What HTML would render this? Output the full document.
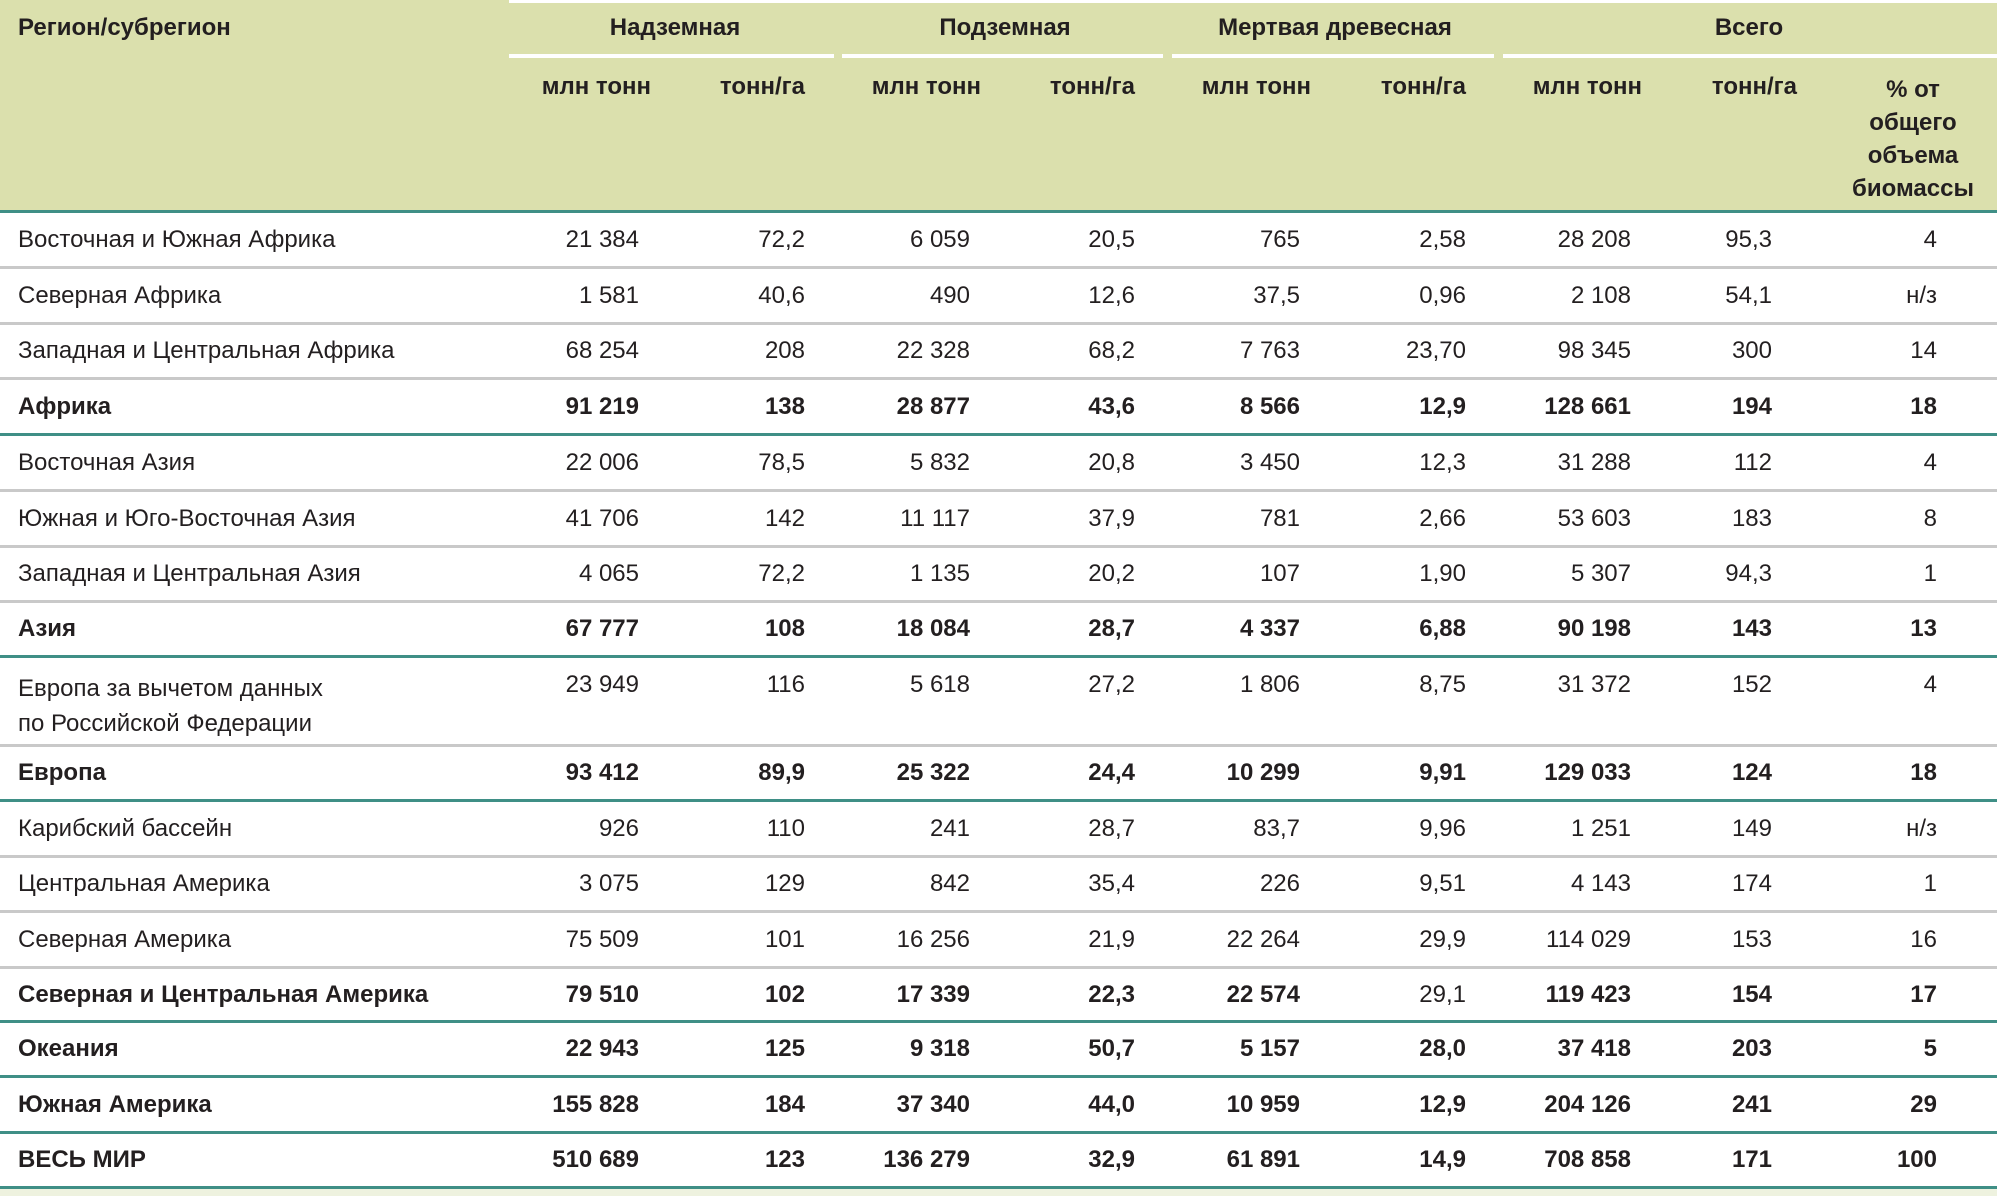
<!DOCTYPE html>
<html><head><meta charset="utf-8">
<style>
*{margin:0;padding:0;box-sizing:border-box}
body{width:1997px;height:1196px;background:#fff;position:relative;overflow:hidden;font-family:"Liberation Sans","DejaVu Sans",sans-serif;color:#231f20}
.hdr{position:absolute;left:0;top:0;width:1997px;height:211px;background:#dbe0ad}
.t{position:absolute;white-space:nowrap;font-size:24px;line-height:28px}
.b{font-weight:bold}
.g{position:absolute;height:4px;background:#fff}
.ln{position:absolute;left:0;width:1997px;height:3px;background:#c9c9c9}
.tl{background:#3f8f86}
.row{position:absolute;left:0;width:1997px}
.row .t{top:50%;transform:translateY(-50%)}
.c1{right:1358px}.c2{right:1192px}.c3{right:1027px}.c4{right:862px}.c5{right:697px}.c6{right:531px}.c7{right:366px}.c8{right:225px}.c9{right:60px}
.nm{left:18px}
.sub{top:73px;font-weight:bold;font-size:24px}
</style></head><body>
<div class="hdr"></div>
<div class="g" style="left:509px;top:0;width:1488px;height:3px"></div>
<div class="g" style="left:509px;top:54px;width:325px"></div>
<div class="g" style="left:842px;top:54px;width:321px"></div>
<div class="g" style="left:1172px;top:54px;width:322px"></div>
<div class="g" style="left:1503px;top:54px;width:494px"></div>
<div class="t b" style="left:18px;top:14px">Регион/субрегион</div>
<div class="t b" style="left:575px;top:14px;width:200px;text-align:center">Надземная</div>
<div class="t b" style="left:905px;top:14px;width:200px;text-align:center">Подземная</div>
<div class="t b" style="left:1185px;top:14px;width:300px;text-align:center">Мертвая древесная</div>
<div class="t b" style="left:1649px;top:14px;width:200px;text-align:center">Всего</div>
<div class="t sub" style="right:1346px">млн тонн</div><div class="t sub" style="right:1192px">тонн/га</div>
<div class="t sub" style="right:1016px">млн тонн</div><div class="t sub" style="right:862px">тонн/га</div>
<div class="t sub" style="right:686px">млн тонн</div><div class="t sub" style="right:531px">тонн/га</div>
<div class="t sub" style="right:355px">млн тонн</div><div class="t sub" style="right:200px">тонн/га</div>
<div class="t b" style="left:1833px;top:73px;width:160px;text-align:center;line-height:33px">% от<br>общего<br>объема<br>биомассы</div>

<div class="ln tl" style="top:210px"></div>

<div class="row" style="top:212px;height:55px"><span class="t nm">Восточная и Южная Африка</span><span class="t c1">21 384</span><span class="t c2">72,2</span><span class="t c3">6 059</span><span class="t c4">20,5</span><span class="t c5">765</span><span class="t c6">2,58</span><span class="t c7">28 208</span><span class="t c8">95,3</span><span class="t c9">4</span></div>
<div class="ln" style="top:266px"></div>
<div class="row" style="top:268px;height:55px"><span class="t nm">Северная Африка</span><span class="t c1">1 581</span><span class="t c2">40,6</span><span class="t c3">490</span><span class="t c4">12,6</span><span class="t c5">37,5</span><span class="t c6">0,96</span><span class="t c7">2 108</span><span class="t c8">54,1</span><span class="t c9">н/з</span></div>
<div class="ln" style="top:322px"></div>
<div class="row" style="top:324px;height:54px"><span class="t nm">Западная и Центральная Африка</span><span class="t c1">68 254</span><span class="t c2">208</span><span class="t c3">22 328</span><span class="t c4">68,2</span><span class="t c5">7 763</span><span class="t c6">23,70</span><span class="t c7">98 345</span><span class="t c8">300</span><span class="t c9">14</span></div>
<div class="ln" style="top:377px"></div>
<div class="row b" style="top:379px;height:55px"><span class="t nm">Африка</span><span class="t c1">91 219</span><span class="t c2">138</span><span class="t c3">28 877</span><span class="t c4">43,6</span><span class="t c5">8 566</span><span class="t c6">12,9</span><span class="t c7">128 661</span><span class="t c8">194</span><span class="t c9">18</span></div>
<div class="ln tl" style="top:433px"></div>
<div class="row" style="top:435px;height:55px"><span class="t nm">Восточная Азия</span><span class="t c1">22 006</span><span class="t c2">78,5</span><span class="t c3">5 832</span><span class="t c4">20,8</span><span class="t c5">3 450</span><span class="t c6">12,3</span><span class="t c7">31 288</span><span class="t c8">112</span><span class="t c9">4</span></div>
<div class="ln" style="top:489px"></div>
<div class="row" style="top:491px;height:55px"><span class="t nm">Южная и Юго-Восточная Азия</span><span class="t c1">41 706</span><span class="t c2">142</span><span class="t c3">11 117</span><span class="t c4">37,9</span><span class="t c5">781</span><span class="t c6">2,66</span><span class="t c7">53 603</span><span class="t c8">183</span><span class="t c9">8</span></div>
<div class="ln" style="top:545px"></div>
<div class="row" style="top:547px;height:54px"><span class="t nm">Западная и Центральная Азия</span><span class="t c1">4 065</span><span class="t c2">72,2</span><span class="t c3">1 135</span><span class="t c4">20,2</span><span class="t c5">107</span><span class="t c6">1,90</span><span class="t c7">5 307</span><span class="t c8">94,3</span><span class="t c9">1</span></div>
<div class="ln" style="top:600px"></div>
<div class="row b" style="top:602px;height:54px"><span class="t nm">Азия</span><span class="t c1">67 777</span><span class="t c2">108</span><span class="t c3">18 084</span><span class="t c4">28,7</span><span class="t c5">4 337</span><span class="t c6">6,88</span><span class="t c7">90 198</span><span class="t c8">143</span><span class="t c9">13</span></div>
<div class="ln tl" style="top:655px"></div>
<div class="t" style="left:18px;top:671px;line-height:35px">Европа за вычетом данных<br>по Российской Федерации</div>
<div class="t c1" style="top:671px">23 949</div><div class="t c2" style="top:671px">116</div><div class="t c3" style="top:671px">5 618</div><div class="t c4" style="top:671px">27,2</div><div class="t c5" style="top:671px">1 806</div><div class="t c6" style="top:671px">8,75</div><div class="t c7" style="top:671px">31 372</div><div class="t c8" style="top:671px">152</div><div class="t c9" style="top:671px">4</div>
<div class="ln" style="top:744px"></div>
<div class="row b" style="top:746px;height:54px"><span class="t nm">Европа</span><span class="t c1">93 412</span><span class="t c2">89,9</span><span class="t c3">25 322</span><span class="t c4">24,4</span><span class="t c5">10 299</span><span class="t c6">9,91</span><span class="t c7">129 033</span><span class="t c8">124</span><span class="t c9">18</span></div>
<div class="ln tl" style="top:799px"></div>
<div class="row" style="top:801px;height:55px"><span class="t nm">Карибский бассейн</span><span class="t c1">926</span><span class="t c2">110</span><span class="t c3">241</span><span class="t c4">28,7</span><span class="t c5">83,7</span><span class="t c6">9,96</span><span class="t c7">1 251</span><span class="t c8">149</span><span class="t c9">н/з</span></div>
<div class="ln" style="top:855px"></div>
<div class="row" style="top:857px;height:54px"><span class="t nm">Центральная Америка</span><span class="t c1">3 075</span><span class="t c2">129</span><span class="t c3">842</span><span class="t c4">35,4</span><span class="t c5">226</span><span class="t c6">9,51</span><span class="t c7">4 143</span><span class="t c8">174</span><span class="t c9">1</span></div>
<div class="ln" style="top:910px"></div>
<div class="row" style="top:912px;height:55px"><span class="t nm">Северная Америка</span><span class="t c1">75 509</span><span class="t c2">101</span><span class="t c3">16 256</span><span class="t c4">21,9</span><span class="t c5">22 264</span><span class="t c6">29,9</span><span class="t c7">114 029</span><span class="t c8">153</span><span class="t c9">16</span></div>
<div class="ln" style="top:966px"></div>
<div class="row b" style="top:968px;height:53px"><span class="t nm">Северная и Центральная Америка</span><span class="t c1">79 510</span><span class="t c2">102</span><span class="t c3">17 339</span><span class="t c4">22,3</span><span class="t c5">22 574</span><span class="t c6" style="font-weight:normal">29,1</span><span class="t c7">119 423</span><span class="t c8">154</span><span class="t c9">17</span></div>
<div class="ln tl" style="top:1020px"></div>
<div class="row b" style="top:1022px;height:54px"><span class="t nm">Океания</span><span class="t c1">22 943</span><span class="t c2">125</span><span class="t c3">9 318</span><span class="t c4">50,7</span><span class="t c5">5 157</span><span class="t c6">28,0</span><span class="t c7">37 418</span><span class="t c8">203</span><span class="t c9">5</span></div>
<div class="ln tl" style="top:1075px"></div>
<div class="row b" style="top:1077px;height:55px"><span class="t nm">Южная Америка</span><span class="t c1">155 828</span><span class="t c2">184</span><span class="t c3">37 340</span><span class="t c4">44,0</span><span class="t c5">10 959</span><span class="t c6">12,9</span><span class="t c7">204 126</span><span class="t c8">241</span><span class="t c9">29</span></div>
<div class="ln tl" style="top:1131px"></div>
<div class="row b" style="top:1133px;height:54px"><span class="t nm">ВЕСЬ МИР</span><span class="t c1">510 689</span><span class="t c2">123</span><span class="t c3">136 279</span><span class="t c4">32,9</span><span class="t c5">61 891</span><span class="t c6">14,9</span><span class="t c7">708 858</span><span class="t c8">171</span><span class="t c9">100</span></div>
<div class="ln tl" style="top:1186px"></div>
<div style="position:absolute;left:0;top:1189px;width:1997px;height:7px;background:#eef2df"></div>
</body></html>
